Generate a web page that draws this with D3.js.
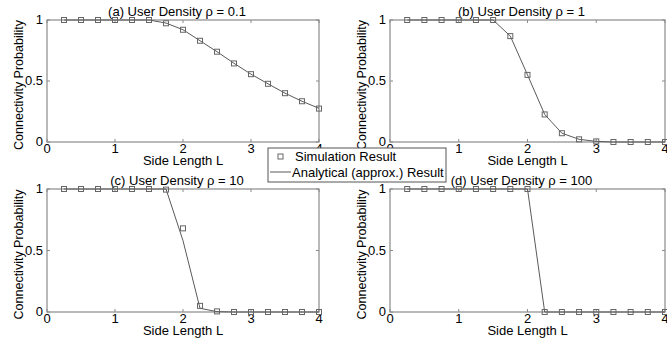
<!DOCTYPE html>
<html><head><meta charset="utf-8">
<script src="https://cdn.jsdelivr.net/npm/d3@7"></script>
<style>
body{margin:0;background:#fff;}
text{font-family:"Liberation Sans",Arial,sans-serif;fill:#000;}
</style></head>
<body><svg id="c" width="667" height="339"></svg>
<script>
const sideLength = [0.25,0.5,0.75,1,1.25,1.5,1.75,2,2.25,2.5,2.75,3,3.25,3.5,3.75,4];
const titles = ["(a) User Density \u03c1 = 0.1","(b) User Density \u03c1 = 1","(c) User Density \u03c1 = 10","(d) User Density \u03c1 = 100"];
const simA = [1,1,1,1,1,1,0.973,0.92,0.83,0.74,0.644,0.556,0.477,0.40,0.334,0.274];
const anaA = [1,1,1,1,1,1,0.975,0.92,0.83,0.74,0.645,0.556,0.477,0.40,0.334,0.276];
const simB = [1,1,1,1,1,1,0.868,0.55,0.226,0.072,0.022,0.005,0,0,0,0];
const anaB = [1,1,1,1,1,1,0.868,0.55,0.226,0.072,0.022,0.005,0,0,0,0];
const simC = [1,1,1,1,1,1,0.995,0.68,0.05,0.005,0,0,0,0,0,0];
const anaC = [1,1,1,1,1,1,1,0.58,0.03,0.003,0,0,0,0,0,0];
const simD = [1,1,1,1,1,1,1,1,0,0,0,0,0,0,0,0];
const anaD = [1,1,1,1,1,1,1,1,0,0,0,0,0,0,0,0];
const xTicks = [0,1,2,3,4];
const yTicks = [0,0.5,1];
const legendLabels = ["Simulation Result","Analytical (approx.) Result"];

const svg = d3.select("#c");
const panels = [
  {x0:47,x1:319,y0:20,y1:142,sim:simA,ana:anaA},
  {x0:390,x1:665,y0:20,y1:142,sim:simB,ana:anaB},
  {x0:47,x1:319,y0:189,y1:312,sim:simC,ana:anaC},
  {x0:390,x1:665,y0:189,y1:312,sim:simD,ana:anaD}
];
const axisCol = "#8a8a8a", lineCol = "#5a5a5a", markCol = "#666";

panels.forEach((p,i)=>{
  const x = d3.scaleLinear().domain([0,4]).range([p.x0,p.x1]);
  const y = d3.scaleLinear().domain([0,1]).range([p.y1,p.y0]);
  const g = svg.append("g");
  g.append("rect").attr("x",p.x0).attr("y",p.y0).attr("width",p.x1-p.x0).attr("height",p.y1-p.y0)
    .attr("fill","none").attr("stroke",axisCol).attr("stroke-width",1.2);
  xTicks.forEach(t=>{
    g.append("line").attr("x1",x(t)).attr("x2",x(t)).attr("y1",p.y1).attr("y2",p.y1-3).attr("stroke",axisCol);
    g.append("line").attr("x1",x(t)).attr("x2",x(t)).attr("y1",p.y0).attr("y2",p.y0+3).attr("stroke",axisCol);
  });
  yTicks.forEach(t=>{
    g.append("line").attr("x1",p.x0).attr("x2",p.x0+3).attr("y1",y(t)).attr("y2",y(t)).attr("stroke",axisCol);
    g.append("line").attr("x1",p.x1).attr("x2",p.x1-3).attr("y1",y(t)).attr("y2",y(t)).attr("stroke",axisCol);
  });
  g.selectAll(".xt").data(xTicks).enter().append("text")
    .attr("x",d=>x(d)).attr("y",p.y1+11).attr("text-anchor","middle").attr("font-size",13).text(d=>d);
  g.selectAll(".yt").data(yTicks).enter().append("text")
    .attr("x",p.x0-4).attr("y",d=>y(d)+4).attr("text-anchor","end").attr("font-size",13).text(d=>d);
  const cx = (p.x0+p.x1)/2;
  g.append("text").attr("x",cx-6).attr("y",p.y0-4).attr("text-anchor","middle").attr("font-size",13).text(titles[i]);
  g.append("text").attr("x",cx).attr("y",p.y1+23).attr("text-anchor","middle").attr("font-size",13).text("Side Length L");
  g.append("text").attr("transform",`translate(${p.x0-24},${(p.y0+p.y1)/2+4}) rotate(-90)`)
    .attr("text-anchor","middle").attr("font-size",12.5).text("Connectivity Probability");
  const line = d3.line().x((d,j)=>x(sideLength[j])).y(d=>y(d));
  g.append("path").attr("d",line(p.ana)).attr("fill","none").attr("stroke",lineCol).attr("stroke-width",1);
  g.selectAll(".m").data(p.sim).enter().append("rect")
    .attr("x",(d,j)=>x(sideLength[j])-2.5).attr("y",d=>y(d)-2.5).attr("width",5).attr("height",5)
    .attr("fill","none").attr("stroke",markCol).attr("stroke-width",1);
});

const lg = svg.append("g");
lg.append("rect").attr("x",268).attr("y",148).attr("width",178).attr("height",34)
  .attr("fill","#fff").attr("stroke","#555").attr("stroke-width",1);
lg.append("rect").attr("x",278).attr("y",154).attr("width",5).attr("height",5).attr("fill","none").attr("stroke",markCol);
lg.append("line").attr("x1",270).attr("x2",291).attr("y1",172).attr("y2",172).attr("stroke",lineCol);
lg.append("text").attr("x",295).attr("y",161).attr("font-size",13).text(legendLabels[0]);
lg.append("text").attr("x",292).attr("y",177).attr("font-size",13).text(legendLabels[1]);
</script></body></html>
